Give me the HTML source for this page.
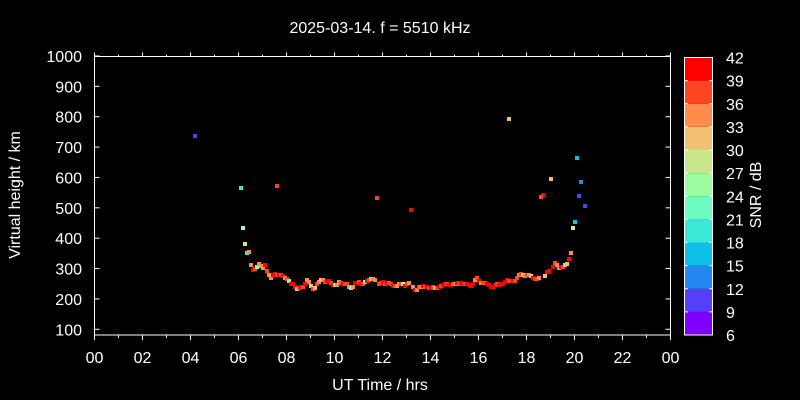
<!DOCTYPE html>
<html><head><meta charset="utf-8"><style>html,body{margin:0;padding:0;background:#000;}svg{display:block}text{font-family:"Liberation Sans",sans-serif;fill:#fff}</style></head>
<body>
<svg id="s" width="800" height="400" xmlns="http://www.w3.org/2000/svg">
<rect width="800" height="400" fill="#000"/>
<text x="380" y="33" font-size="16" text-anchor="middle">2025-03-14. f = 5510 kHz</text>
<g id="ax" stroke="#fff" stroke-width="1" fill="none">
<rect x="94.5" y="56.5" width="576" height="278.5"/>
</g>
<g id="lab" font-size="16"></g>
<text x="380" y="390" font-size="16" text-anchor="middle">UT Time / hrs</text>
<text transform="translate(20,195) rotate(-90)" font-size="16" text-anchor="middle">Virtual height / km</text>
<text transform="translate(761,195) rotate(-90)" font-size="16" text-anchor="middle">SNR / dB</text>
<g id="cb"></g>
<g id="pts"></g>
</svg>
<script>
var NS="http://www.w3.org/2000/svg";
function el(p,t,a,tx){var e=document.createElementNS(NS,t);for(var k in a)e.setAttribute(k,a[k]);if(tx!==undefined)e.textContent=tx;document.getElementById(p).appendChild(e);return e;}
var L=94.5,R=670.5,T=56.5,B=335;
function X(h){return L+h*24;}
function Y(k){return 329.3-(k-100)*0.3037;}
for(var h=0;h<=24;h++){var x=X(h),maj=h%2==0;
 el("ax","line",{x1:x,y1:B,x2:x,y2:B+(maj?5:3)});
 el("ax","line",{x1:x,y1:T,x2:x,y2:T-(maj?4:2)});
 if(maj){var s=(h%24<10?"0":"")+(h%24);el("lab","text",{x:x,y:363,"text-anchor":"middle"},s);}}
for(var k=100;k<=1000;k+=100){var y=Y(k);
 el("ax","line",{x1:L,y1:y,x2:L+5,y2:y});el("ax","line",{x1:R,y1:y,x2:R-5,y2:y});
 el("lab","text",{x:82,y:y+6,"text-anchor":"end"},k);}
var C=["#8000ff","#5440f8","#2488f0","#0cc0e8","#3ce8d8","#6cfcc0","#9cfca0","#c8e68a","#f2c070","#ff8c4a","#ff4422","#ff0000"];
var cbT=57.5,cbB=335,cbh=(cbB-cbT)/12;
for(var i=0;i<12;i++){el("cb","rect",{x:684.5,y:cbB-(i+1)*cbh,width:28,height:cbh,fill:C[i]});}
el("cb","rect",{x:684.5,y:cbT,width:28,height:cbB-cbT,fill:"none",stroke:"#fff"});
for(var i=0;i<=12;i++){var y=cbB-i*cbh;
 if(i>0&&i<12){el("cb","line",{x1:684.5,y1:y,x2:688,y2:y,stroke:"#fff"});el("cb","line",{x1:712.5,y1:y,x2:709,y2:y,stroke:"#fff"});}
 el("cb","text",{x:726,y:y+6,"font-size":"16"},6+3*i);}
var r=11,ro=10,o=9,lo=8,yg=7,lg=6,cy=4,c3=3,b2=2,b1=1;
var P=[[195,136,b1],[241,188,cy],[277,186,ro],[243,228,lg],[245,244,yg],[247,253,cy],[249,252,o],[377,198,ro],[411,210,r],[509,119,lo],[577,158,c3],[551,179,lo],[581,182,b2],[543,195,r],[541,197,ro],[579,196,b1],[585,206,b1],[575,222,c3],[573,228,yg],
[251,265,o],[253,270,r],[255,269,ro],[257,267,lg],[259,264,o],[261,266,o],[263,268,o],[265,265,r],[267,271,ro],[269,275,o],[271,278,o],[273,275,r],[275,274,r],[277,275,ro],[279,275,r],[281,275,ro],[283,276,r],[285,278,o],[287,279,ro],[289,281,lg],[291,284,r],[293,284,r],[295,287,r],[297,289,lo],[299,288,ro],[301,287,r],[303,287,ro],[305,284,r],[307,280,o],[309,282,o],[311,286,lo],[313,289,ro],[315,288,lo],[317,284,ro],[319,282,o],[321,280,lo],[323,280,o],[325,282,ro],[327,281,r],[329,281,r],[331,283,ro],[333,285,r],[335,285,lg],[337,285,o],[339,282,o],[341,283,ro],[343,284,r],[345,284,ro],[347,284,ro],[349,287,o],[351,288,lg],[353,287,o],[355,283,r],[357,283,r],[359,282,ro],[361,284,r],[363,284,ro],[365,282,lg],[367,281,r],[369,280,ro],[371,279,lo],[373,279,o],[375,280,o],[379,284,ro],[381,283,ro],[383,282,r],[385,284,ro],[387,283,r],[389,283,ro],[391,284,ro],[393,286,r],[395,286,ro],[397,286,o],[399,284,o],[401,284,ro],[403,284,lg],[405,286,r],[407,284,ro],[409,283,o],[413,287,o],[415,290,r],[417,290,o],[419,287,ro],[421,287,o],[423,286,r],[425,287,ro],[427,287,r],[429,288,ro],[431,288,r],[433,287,ro],[435,288,lo],[437,288,ro],[439,287,r],[441,286,ro],[443,285,r],[445,284,r],[447,284,ro],[449,285,r],[451,285,r],[453,284,ro],[455,284,o],[457,283,r],[459,284,ro],[461,283,r],[463,284,r],[465,284,ro],[467,284,r],[469,285,r],[471,286,r],[473,284,r],[475,280,o],[477,278,ro],[479,281,r],[481,283,o],[483,283,ro],[485,283,ro],[487,284,r],[489,285,r],[491,287,r],[493,287,r],[495,285,r],[497,284,ro],[499,285,r],[501,284,r],[503,284,r],[505,282,r],[507,280,r],[509,281,ro],[511,281,ro],[513,281,r],[515,281,ro],[517,278,ro],[519,275,o],[521,274,ro],[523,275,lo],[525,276,o],[527,275,ro],[529,275,o],[531,276,lo],[533,278,r],[535,279,ro],[537,279,ro],[539,278,o],[545,276,lo],[547,272,r],[549,271,r],[553,267,r],[555,263,ro],[557,265,o],[559,268,o],[561,267,r],[563,267,ro],[565,265,lo],[567,264,lo],[569,259,r],[571,253,o]];
P.forEach(function(p){el("pts","rect",{x:p[0]-2,y:p[1]-2,width:4,height:4,fill:C[p[2]]});});
</script>
</body></html>
